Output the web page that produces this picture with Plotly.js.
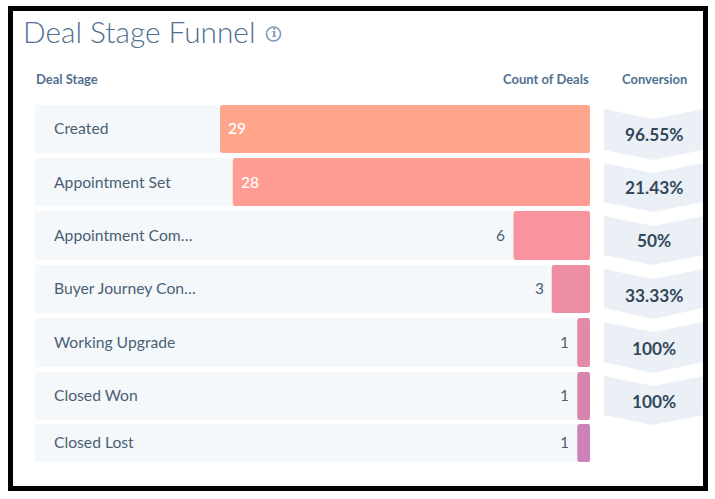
<!DOCTYPE html>
<html><head><meta charset="utf-8">
<script src="https://cdn.plot.ly/plotly-3.0.1.min.js"></script>
<style>html,body{margin:0;padding:0;background:#fff}</style>
</head><body><div id="chart" style="width:715px;height:499px"></div>
<script>
const stages = ["Created","Appointment Set","Appointment Com…","Buyer Journey Con…","Working Upgrade","Closed Won","Closed Lost"];
const counts = [29,28,6,3,1,1,1];
const conversions = ["96.55%","21.43%","50%","33.33%","100%","100%"];
const barColors = ["#FFA58C","#FF9C94","#F8939F","#EE8EA5","#E489A9","#D984AE","#CB82B8"];

// page geometry, in picture pixels
const W=715,H=499;
const px=x=>x/W, py=y=>1-y/H;
const rowTop=[105,158,211,265,318,372,424];
const rowBot=[153,206,260,313,367,420,462];
const labelY=[128,182,235,288,342,395,442];
const chevrons=[[109,119,150,160],[163,173,202,212],[216,226,255,265],[269,279,308,319],[322,332,362,373],[376,386,415,425]];
const convY=[135,188,241,295,348,401];
const pxPerDeal=370/29, plotL=35, plotR=590, plotT=105, plotB=462;

const ann=(text,x,y,o={})=>Object.assign({text,xref:'paper',yref:'paper',x:px(x),y:py(y),xanchor:'left',yanchor:'middle',showarrow:false,
  font:{family:'Lato',size:15.7,color:'#4A5F75'}},o);
const headFont={family:'Lato',size:13,weight:700,color:'#516F90'};

const annotations=[
  ann('Deal Stage',33.5,79,{font:headFont}),
  ann('Count of Deals',591,79,{xanchor:'right',font:headFont}),
  ann('Conversion',654.5,79,{xanchor:'center',font:headFont}),
  ann('i',273.5,34,{xanchor:'center',font:{family:'DejaVu Serif',size:11,weight:700,color:'#7C98B6'}})
];
stages.forEach((s,i)=>annotations.push(ann(s,51.5,labelY[i])));
counts.forEach((c,i)=>{
  const inside=i<2;
  annotations.push({text:String(c),xref:'x',yref:'y',x:c,y:labelY[i],xanchor:inside?'left':'right',yanchor:'middle',
    xshift:inside?6:-6,showarrow:false,font:{family:'Lato',size:15.5,color:inside?'#FFFFFF':'#4A5F75',weight:inside?500:400}});
});
conversions.forEach((c,i)=>annotations.push(ann(c,654,convY[i],{xanchor:'center',font:{family:'Lato',size:17.3,weight:700,color:'#33475B'}})));

const shapes=[];
const P=(x,y)=>`${px(x)},${py(y)}`;
rowTop.forEach((t,i)=>{
  const b=rowBot[i];
  shapes.push({type:'rect',layer:'below',xref:'paper',yref:'paper',x0:px(plotL),x1:px(plotR),y0:py(t),y1:py(b),line:{width:0},fillcolor:'#F5F8FA'});
  // rounds the bar's two right-hand corners
  shapes.push({type:'path',xref:'paper',yref:'paper',line:{width:0},fillcolor:'#FFFFFF',
    path:`M${P(plotR+0.5,t-0.5)} L${P(plotR-3,t-0.5)} Q${P(plotR,t-0.5)} ${P(plotR,t+3)} L${P(plotR+0.5,t+3)} Z`});
  shapes.push({type:'path',xref:'paper',yref:'paper',line:{width:0},fillcolor:'#FFFFFF',
    path:`M${P(plotR+0.5,b+0.5)} L${P(plotR-3,b+0.5)} Q${P(plotR,b+0.5)} ${P(plotR,b-3)} L${P(plotR+0.5,b-3)} Z`});
});
chevrons.forEach(c=>{
  const [a,b,d,e]=c;
  shapes.push({type:'path',layer:'below',xref:'paper',yref:'paper',line:{width:0},fillcolor:'#EAF0F6',
    path:`M${P(604,a)} L${P(653,b)} L${P(703,a)} L${P(703,d)} L${P(653,e)} L${P(604,d)} Z`});
});
shapes.push({type:'circle',xref:'paper',yref:'paper',x0:px(266.5),x1:px(280.5),y0:py(27),y1:py(41),line:{width:1.6,color:'#7C98B6'},fillcolor:'rgba(0,0,0,0)'});
shapes.push({type:'rect',xref:'paper',yref:'paper',x0:px(10.5),x1:px(705.5),y0:py(8.5),y1:py(488.5),line:{width:5,color:'#000000'},fillcolor:'rgba(0,0,0,0)'});

const trace={type:'bar',orientation:'h',x:counts,
  y:rowTop.map((t,i)=>(t+rowBot[i])/2),
  width:rowTop.map((t,i)=>rowBot[i]-t),
  marker:{color:barColors,cornerradius:3,line:{width:0}},
  hoverinfo:'x+text',text:stages,textposition:'none'};

Plotly.newPlot('chart',[trace],{
  width:W,height:H,margin:{l:0,r:0,t:0,b:0},paper_bgcolor:'#fff',plot_bgcolor:'rgba(0,0,0,0)',showlegend:false,
  title:{text:'Deal Stage Funnel',x:px(23),xanchor:'left',xref:'paper',y:py(33),yanchor:'middle',yref:'paper',
    font:{family:'Lato',size:29.8,weight:300,color:'#516F90'}},
  xaxis:{domain:[px(plotL),px(plotR)],range:[(plotR-plotL)/pxPerDeal,0],visible:false,fixedrange:true},
  yaxis:{domain:[py(plotB),py(plotT)],range:[plotB,plotT],visible:false,fixedrange:true},
  annotations,shapes
},{displayModeBar:false,responsive:false});
</script></body></html>
